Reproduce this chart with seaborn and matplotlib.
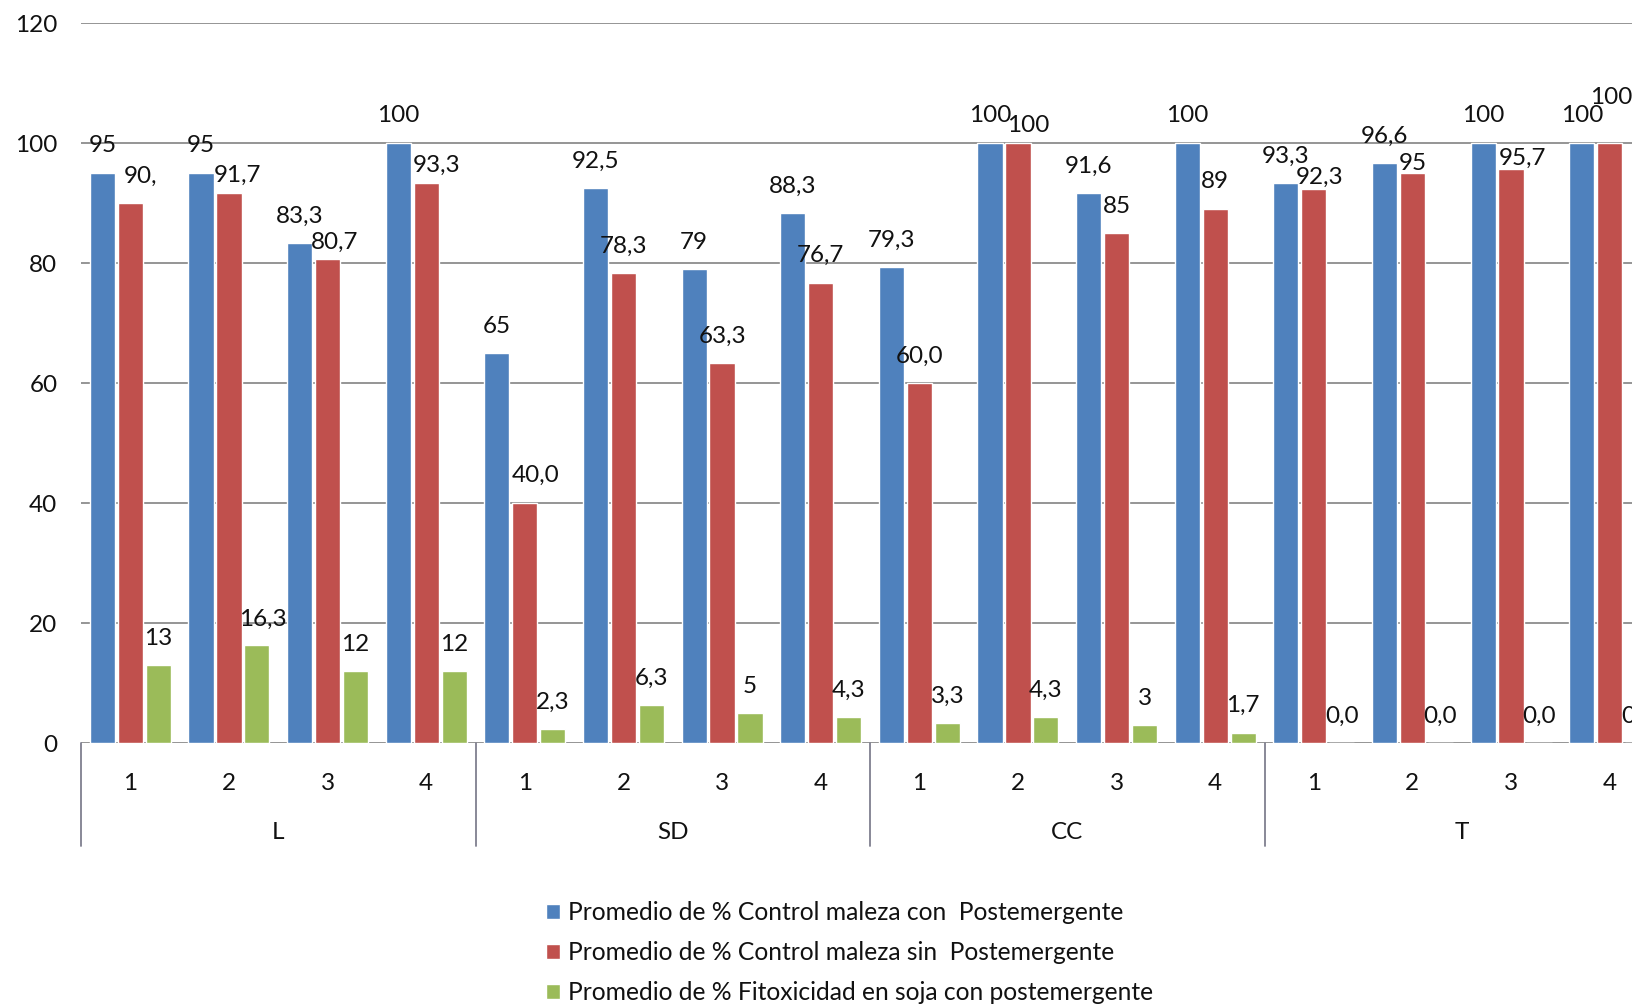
import matplotlib
matplotlib.use("Agg")
import matplotlib.pyplot as plt
import matplotlib.transforms as mtransforms
import pandas as pd
import seaborn as sns

# Soil management groups and treatments within each group
groups = ["L", "SD", "CC", "T"]
treatments = ["1", "2", "3", "4"]

series_names = [
    "Promedio de % Control maleza con  Postemergente",
    "Promedio de % Control maleza sin  Postemergente",
    "Promedio de % Fitoxicidad en soja con postemergente",
]

# Values as printed on the bars (decimal comma)
control_con = ["95", "95", "83,3", "100", "65", "92,5", "79", "88,3",
               "79,3", "100", "91,6", "100", "93,3", "96,6", "100", "100"]
control_sin = ["90,", "91,7", "80,7", "93,3", "40,0", "78,3", "63,3", "76,7",
               "60,0", "100", "85", "89", "92,3", "95", "95,7", "100"]
fitotox = ["13", "16,3", "12", "12", "2,3", "6,3", "5", "4,3",
           "3,3", "4,3", "3", "1,7", "0,0", "0,0", "0,0", "0,0"]

colors = ["#4F81BD", "#C0504D", "#9BBB59"]


def to_num(s):
    return float(s.replace(",", "."))


categories = [f"{g}-{t}" for g in groups for t in treatments]
label_sets = [control_con, control_sin, fitotox]

rows = []
for name, labels in zip(series_names, label_sets):
    for cat, lab in zip(categories, labels):
        rows.append({"cat": cat, "series": name, "value": to_num(lab)})
df = pd.DataFrame(rows)

sns.set_style("white")
plt.rcParams["font.family"] = ["Lato", "DejaVu Sans"]

FS = 17.5
W, H = 1632, 1005
fig = plt.figure(figsize=(W / 100, H / 100), dpi=100)
ax_left, ax_bottom = 81 / W, (H - 743) / H
ax_w, ax_h = 1578 / W, (743 - 23) / H
ax = fig.add_axes([ax_left, ax_bottom, ax_w, ax_h])

sns.barplot(data=df, x="cat", y="value", hue="series", order=categories,
            hue_order=series_names, palette=colors, saturation=1,
            width=0.85, gap=0.1, errorbar=None, ax=ax)

ax.set_xlim(-0.5, len(categories) - 0.5)
ax.set_ylim(0, 120)
ax.set_yticks(range(0, 121, 20))
ax.tick_params(axis="y", length=0, pad=17, labelsize=FS, labelcolor="#111111")
ax.set_xticks([])
ax.set_xlabel("")
ax.set_ylabel("")
for sp in ax.spines.values():
    sp.set_visible(False)
ax.set_axisbelow(True)
ax.grid(axis="y", color="#8c8c8c", linewidth=1.3)

# Value labels above bars; offsets in pixels (dx, dy)
px = 72 / 100
default_dy = 27
nudges = {
    (1, 0): (10, 27), (1, 1): (9, 17), (1, 2): (7, 16), (1, 3): (10, 18),
    (1, 4): (11, 28), (1, 9): (10, 18), (1, 12): (6, 12), (1, 13): (0, 10),
    (1, 14): (11, 10), (1, 15): (2, 45), (2, 1): (6, 26),
}
for si, (cont, labels) in enumerate(zip(ax.containers, label_sets)):
    for bi, (bar, lab) in enumerate(zip(cont, labels)):
        dx, dy = nudges.get((si, bi), (0, default_dy))
        xc = bar.get_x() + bar.get_width() / 2
        ax.annotate(lab, xy=(xc, bar.get_height()), xytext=(dx * px, dy * px),
                    textcoords="offset points", ha="center", va="center",
                    fontsize=FS, color="#111111", annotation_clip=False)

# Two-level category axis
trans = mtransforms.blended_transform_factory(ax.transData, ax.transAxes)
for i, cat in enumerate(categories):
    ax.text(i, -0.0565, cat.split("-")[1], transform=trans, ha="center",
            va="center", fontsize=FS, color="#111111")
for gi, g in enumerate(groups):
    ax.text(gi * 4 + 1.5, -0.1245, g, transform=trans, ha="center",
            va="center", fontsize=FS, color="#111111")
for b in [-0.5, 3.5, 7.5, 11.5, 15.5]:
    ax.plot([b, b], [0, -0.143], transform=trans, color="#7f7f8f",
            linewidth=1.3, clip_on=False)

handles, labels = ax.get_legend_handles_labels()
if ax.legend_ is not None:
    ax.legend_.remove()
fig.legend(handles, labels, loc="upper left",
           bbox_to_anchor=(546 / W, 1 - 901 / H), frameon=False,
           fontsize=17.7, handlelength=0.56, handleheight=0.56,
           handletextpad=0.35, labelspacing=0.7, borderpad=0,
           borderaxespad=0, labelcolor="#111111")

fig.savefig("out.png", dpi=100)
